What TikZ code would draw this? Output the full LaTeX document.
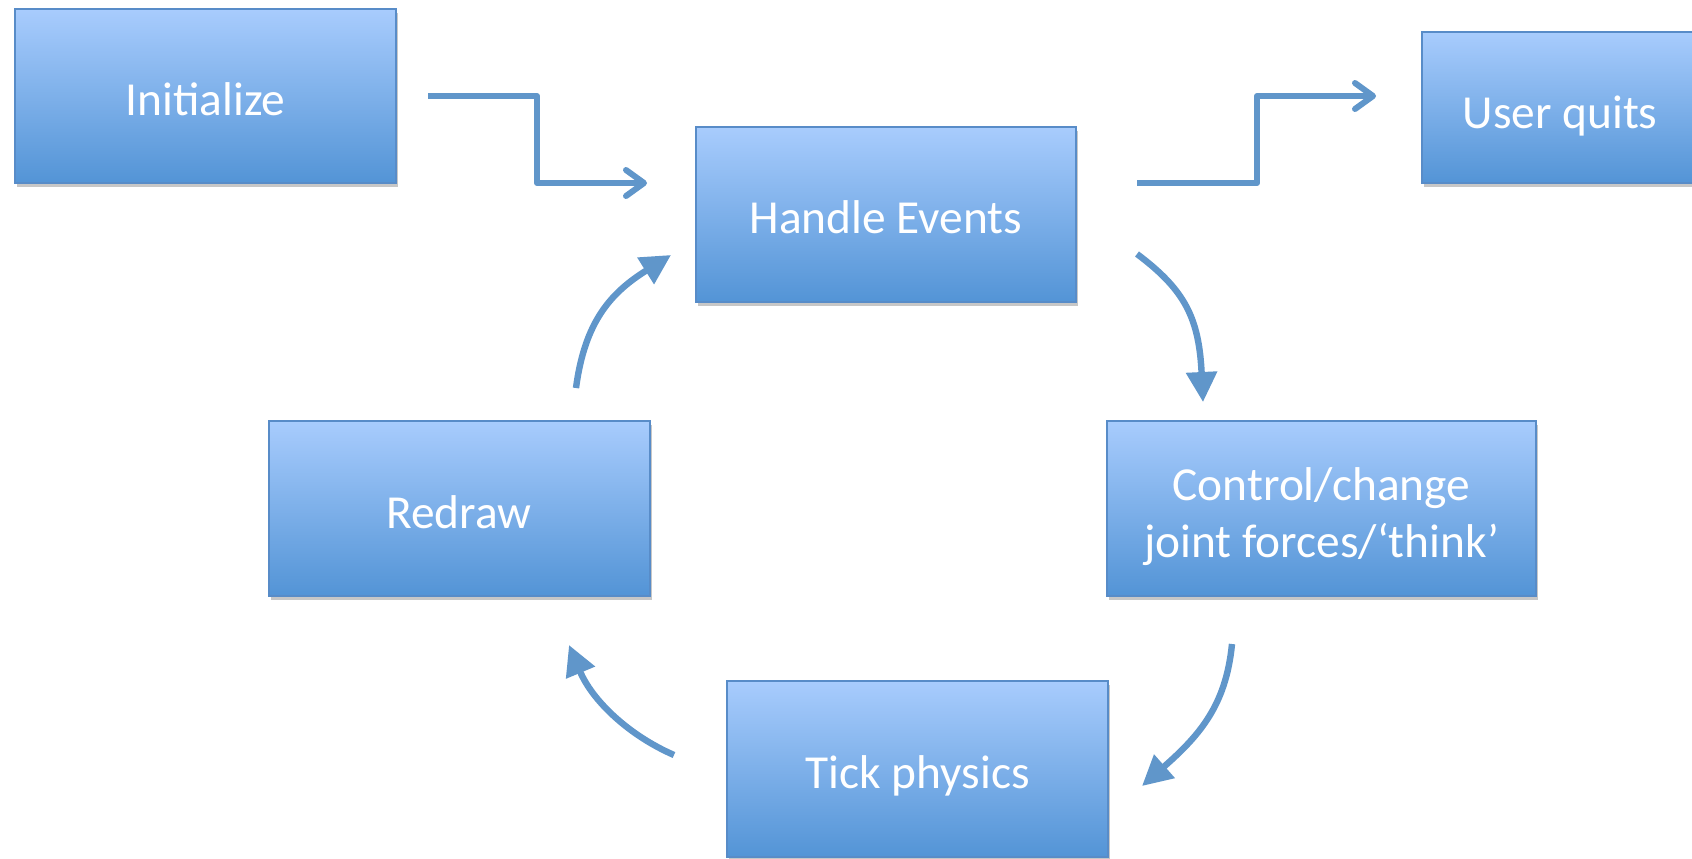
\documentclass[tikz,border=0pt]{standalone}
\usepackage{fontspec}
\setmainfont{Carlito}
\usetikzlibrary{arrows.meta,shadows}
\definecolor{boxtop}{RGB}{168,204,253}
\definecolor{boxbot}{RGB}{83,148,214}
\definecolor{boxline}{RGB}{88,140,200}
\definecolor{conn}{RGB}{96,150,202}
\tikzset{
  flowbox/.style={rectangle, draw=boxline, line width=1pt, top color=boxtop, bottom color=boxbot,
    inner sep=0pt,
    drop shadow={shadow xshift=1pt, shadow yshift=-2pt, opacity=0.22, fill=black}},
  boxtext/.style={text=white, align=center, inner sep=0pt,
    font=\fontsize{23.7pt}{28.5pt}\selectfont},
  elbowline/.style={draw=conn, line width=3pt, line join=round,
    -{Straight Barb[length=9pt,width=13pt,line cap=round,line join=round]}},
  curveline/.style={draw=conn, line width=3.2pt, -{Triangle[length=15pt,width=15pt]}}
}
\begin{document}
\begin{tikzpicture}[x=0.5pt,y=-0.5pt]
\useasboundingbox[fill=white] (0,0) rectangle (1692,858);
\node[flowbox, minimum width=190.5pt, minimum height=87pt,
  label={[boxtext,yshift=-1.6pt]center:Initialize}] (init) at (205.5,96) {};
\node[flowbox, minimum width=190pt, minimum height=87.5pt,
  label={[boxtext,yshift=-1.6pt]center:Handle Events}] (he) at (886,214.5) {};
\node[flowbox, minimum width=138pt, minimum height=75.5pt,
  label={[boxtext,yshift=-4.3pt]center:User quits}] (uq) at (1560,107.5) {};
\node[flowbox, minimum width=190.5pt, minimum height=87.5pt,
  label={[boxtext,yshift=-2.2pt]center:Redraw}] (rd) at (459,508) {};
\node[flowbox, minimum width=214.5pt, minimum height=87.5pt,
  label={[boxtext,yshift=-4.3pt]center:Control/change\\joint forces/‘think’}] (ct) at (1321.5,508) {};
\node[flowbox, minimum width=190.5pt, minimum height=88pt,
  label={[boxtext,yshift=-3.2pt]center:Tick physics}] (tk) at (917.5,769) {};

% connector end points (free ends near the boxes)
\coordinate (a1) at (428,96);
\coordinate (a2) at (647,183);
\coordinate (b1) at (1137,183);
\coordinate (b2) at (1376,96);
\coordinate (c1) at (1137,254);
\coordinate (c2) at (1203,402);
\coordinate (d1) at (1232,644);
\coordinate (d2) at (1142,786);
\coordinate (e1) at (674,755);
\coordinate (e2) at (569,645);
\coordinate (f1) at (576,388);
\coordinate (f2) at (671,255);

\draw[elbowline] (a1) -- (537,96) -- (537,183) -- (a2);
\draw[elbowline] (b1) -- (1257,183) -- (1257,96) -- (b2);
\draw[curveline] (c1) .. controls (1185,290) and (1199,318) .. (c2);
\draw[curveline] (d1) .. controls (1226,705) and (1200,735) .. (d2);
\draw[curveline] (e1) .. controls (628,735) and (592,700) .. (e2);
\draw[curveline] (f1) .. controls (585,320) and (612,292) .. (f2);
\end{tikzpicture}
\end{document}
